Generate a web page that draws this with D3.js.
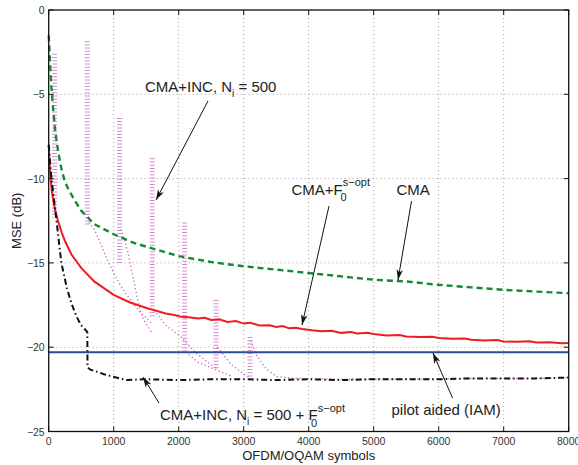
<!DOCTYPE html>
<html><head><meta charset="utf-8">
<script src="https://cdn.jsdelivr.net/npm/d3@7"></script>
<style>
body{margin:0;background:#fff;}
svg text{font-family:"Liberation Sans",Arial,Helvetica,sans-serif;}
</style></head>
<body><svg id="c" width="578" height="465"></svg>
<script>
// ---- data ----
const xTicks = [0,1000,2000,3000,4000,5000,6000,7000,8000];
const yTicks = [0,-5,-10,-15,-20,-25];

const cmaX = [0,20,40,60,100,150,200,250,300,400,500,700,1000,1300,1600,2000,2500,3000,3500,4000,4500,5000,5500,6000,6500,7000,7500,8000];
const cmaY = [-1.5,-3,-4.5,-5.5,-7.2,-8.5,-9.5,-10.2,-10.6,-11.3,-11.9,-12.7,-13.3,-13.8,-14.15,-14.6,-14.95,-15.2,-15.4,-15.6,-15.8,-16.0,-16.1,-16.3,-16.45,-16.6,-16.7,-16.8];

const redX = [0,15,30,50,70,100,143,200,250,350,500,700,1000,1250,1530,1800,1950,2040,2150,2300,2400,2500,2620,2750,2880,3000,3100,3250,3400,3500,3600,3700,3800,3900,4050,4200,4350,4500,4650,4750,4900,5000,5200,5400,5500,5700,5900,6000,6200,6400,6500,6700,6900,7000,7200,7400,7500,7700,7900,8000];
const redY = [-8,-9.2,-10,-10.8,-11.3,-11.9,-12.5,-13.2,-13.7,-14.5,-15.3,-16.1,-16.9,-17.35,-17.7,-18.0,-18.1,-18.2,-18.22,-18.3,-18.25,-18.38,-18.35,-18.5,-18.45,-18.6,-18.55,-18.72,-18.7,-18.8,-18.74,-18.88,-18.85,-18.92,-19.0,-19.05,-19.02,-19.15,-19.1,-19.18,-19.15,-19.22,-19.3,-19.28,-19.36,-19.4,-19.38,-19.46,-19.5,-19.48,-19.56,-19.6,-19.57,-19.66,-19.68,-19.65,-19.72,-19.7,-19.76,-19.75];

const blkX = [0,40,117,195,280,350,430,500,560,594,597,650,740,850,940,1090,1200,1450,2000,2500,3000,3500,4000,4500,5000,5500,6000,6500,7000,7500,8000];
const blkY = [-8,-9.9,-12.4,-15.0,-16.5,-17.4,-18.2,-18.7,-18.95,-19.1,-21.2,-21.35,-21.45,-21.6,-21.7,-21.85,-21.95,-21.9,-21.95,-21.9,-21.9,-21.95,-21.9,-21.95,-21.9,-21.9,-21.9,-21.85,-21.85,-21.85,-21.8];

const pilotX = [0,8000];
const pilotY = [-20.3,-20.3];

// magenta (CMA+INC, Ni=500): re-initialisation bursts and decays
const spikeX = [92,594,1092,1594,2092,2574,3097];
const spikeTop = [-2.6,-1.85,-6.4,-8.8,-12.6,-17.2,-19.4];
const spikeBot = [-12.3,-12.8,-15.0,-18.2,-20.35,-21.3,-21.9];

const decay1X = [620,700,760,900,1000,1100,1200,1300,1400,1480,1594];
const decay1Y = [-12.6,-13.0,-13.5,-14.8,-15.6,-16.3,-16.9,-17.4,-17.9,-18.2,-18.6];
const decay2X = [1110,1180,1220,1300,1380,1450,1594];
const decay2Y = [-13.0,-13.8,-14.4,-15.9,-17.4,-18.3,-19.2];
const decay3X = [1620,1800,2040,2250,2450,2600];
const decay3Y = [-17.8,-18.7,-19.4,-20.3,-20.9,-21.3];
const decay4X = [2110,2300,2580,2800];
const decay4Y = [-20.3,-20.9,-21.35,-21.7];
const decay5X = [2600,2800,3000,3097];
const decay5Y = [-20.0,-21.0,-21.6,-21.8];
const decay6X = [3110,3200,3350,3510,3800,4500,5500,6500,7500,8000];
const decay6Y = [-19.6,-20.5,-21.3,-21.75,-21.85,-21.9,-21.9,-21.85,-21.85,-21.8];

// ---- drawing ----
const svg = d3.select("#c");
const L=48.7, R=568.7, T=10, B=431.5;
const x = d3.scaleLinear().domain([0,8000]).range([L,R]);
const y = d3.scaleLinear().domain([-25,0]).range([B,T]);
const fmt = v => (v<0 ? "\u2212"+Math.abs(v) : ""+v);

// grid
const g = svg.append("g");
g.selectAll(".gx").data(xTicks.slice(1,-1)).join("line")
 .attr("x1",d=>x(d)).attr("x2",d=>x(d)).attr("y1",T).attr("y2",B)
 .attr("stroke","#888").attr("stroke-width",0.8).attr("stroke-dasharray","1,3");
g.selectAll(".gy").data(yTicks.slice(1,-1)).join("line")
 .attr("y1",d=>y(d)).attr("y2",d=>y(d)).attr("x1",L).attr("x2",R)
 .attr("stroke","#888").attr("stroke-width",0.8).attr("stroke-dasharray","1,3");

const line = (xs,ys)=>d3.line().x((d,i)=>x(xs[i])).y((d,i)=>y(ys[i]))(xs);
const plot = svg.append("g");

// magenta spikes
plot.selectAll(".sp").data(spikeX).join("line")
 .attr("x1",d=>x(d)).attr("x2",d=>x(d))
 .attr("y1",(d,i)=>y(spikeTop[i])).attr("y2",(d,i)=>y(spikeBot[i]))
 .attr("stroke","#d88ad2").attr("stroke-width",5).attr("stroke-dasharray","1,2.2");
[[decay1X,decay1Y],[decay2X,decay2Y],[decay3X,decay3Y],[decay4X,decay4Y],[decay5X,decay5Y],[decay6X,decay6Y]].forEach(([xs,ys])=>{
  plot.append("path").attr("d",line(xs,ys)).attr("fill","none")
   .attr("stroke","#cc66c4").attr("stroke-width",1.3).attr("stroke-dasharray","1.3,2.5");
});

plot.append("path").attr("d",line(cmaX,cmaY)).attr("fill","none")
 .attr("stroke","#128a3a").attr("stroke-width",2.4).attr("stroke-dasharray","6,4");
plot.append("path").attr("d",line(pilotX,pilotY)).attr("fill","none")
 .attr("stroke","#2a4a9c").attr("stroke-width",2);
plot.append("path").attr("d",line(redX,redY)).attr("fill","none")
 .attr("stroke","#ee1c24").attr("stroke-width",2);
plot.append("path").attr("d",line(blkX,blkY)).attr("fill","none")
 .attr("stroke","#111").attr("stroke-width",2).attr("stroke-dasharray","6,3,1.5,3");

// box + ticks
svg.append("rect").attr("x",L).attr("y",T).attr("width",R-L).attr("height",B-T)
 .attr("fill","none").attr("stroke","#111").attr("stroke-width",1.3);
const tk = svg.append("g").attr("stroke","#111").attr("stroke-width",1);
xTicks.forEach(v=>{
  tk.append("line").attr("x1",x(v)).attr("x2",x(v)).attr("y1",B).attr("y2",B-5);
  tk.append("line").attr("x1",x(v)).attr("x2",x(v)).attr("y1",T).attr("y2",T+5);
});
yTicks.forEach(v=>{
  tk.append("line").attr("x1",L).attr("x2",L+5).attr("y1",y(v)).attr("y2",y(v));
  tk.append("line").attr("x1",R).attr("x2",R-5).attr("y1",y(v)).attr("y2",y(v));
});
svg.selectAll(".xl").data(xTicks).join("text")
 .attr("x",d=>x(d)).attr("y",B+13).attr("text-anchor","middle")
 .attr("font-size",10.5).attr("fill","#333").text(fmt);
svg.selectAll(".yl").data(yTicks).join("text")
 .attr("x",L-4).attr("y",d=>y(d)+4).attr("text-anchor","end")
 .attr("font-size",10.5).attr("fill","#333").text(fmt);

svg.append("text").attr("x",(L+R)/2).attr("y",460).attr("text-anchor","middle")
 .attr("font-size",13).attr("fill","#222").text("OFDM/OQAM symbols");
svg.append("text").attr("transform","translate(21,"+((T+B)/2)+") rotate(-90)")
 .attr("text-anchor","middle").attr("font-size",13).attr("fill","#222").text("MSE (dB)");

// annotations
const ann = svg.append("g").attr("fill","#222");
function arrow(x1,y1,x2,y2){
  ann.append("line").attr("x1",x1).attr("y1",y1).attr("x2",x2).attr("y2",y2)
   .attr("stroke","#111").attr("stroke-width",1);
  const a=Math.atan2(y2-y1,x2-x1), s=11, w=0.3;
  const p=[[x2,y2],[x2-s*Math.cos(a-w),y2-s*Math.sin(a-w)],[x2-s*0.7*Math.cos(a),y2-s*0.7*Math.sin(a)],[x2-s*Math.cos(a+w),y2-s*Math.sin(a+w)]];
  ann.append("path").attr("d","M"+p.map(q=>q.join(",")).join("L")+"Z").attr("fill","#111");
}
let t=ann.append("text").attr("x",145).attr("y",92).attr("font-size",15);
t.append("tspan").text("CMA+INC, N");
t.append("tspan").attr("font-size",10).attr("dy",5).text("i");
t.append("tspan").attr("dy",-5).text(" = 500");
arrow(208,101,156,200);

t=ann.append("text").attr("x",291.5).attr("y",195).attr("font-size",15);
t.append("tspan").text("CMA+F");
t.append("tspan").attr("font-size",11).attr("dy",-9).text("s\u2212opt");
t.append("tspan").attr("font-size",11).attr("x",340.5).attr("y",201).text("0");
arrow(329,206,302,325);

ann.append("text").attr("x",396.5).attr("y",195).attr("font-size",15).text("CMA");
arrow(411.5,201,398,280);

t=ann.append("text").attr("x",160).attr("y",420).attr("font-size",15);
t.append("tspan").text("CMA+INC, N");
t.append("tspan").attr("font-size",10).attr("dy",5).text("i");
t.append("tspan").attr("dy",-5).text(" = 500 + F");
t.append("tspan").attr("font-size",11).attr("dy",-8).text("s\u2212opt");
t.append("tspan").attr("font-size",11).attr("x",311).attr("y",427).text("0");
arrow(159,403,143,377);

ann.append("text").attr("x",391.5).attr("y",415).attr("font-size",15).text("pilot aided (IAM)");
arrow(452.5,398,433,353);
</script></body></html>
